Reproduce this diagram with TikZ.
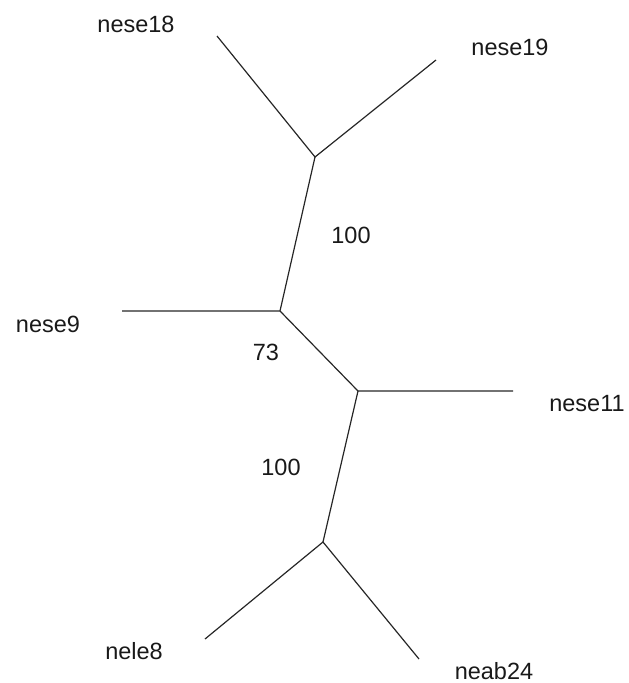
\documentclass[tikz,border=0pt]{standalone}
\usepackage{fontspec}
\setmainfont{Liberation Sans}
\begin{document}
\begin{tikzpicture}[x=1pt,y=-1pt,
  branch/.style={line width=1.2pt,color=black!85},
  taxon/.style={font=\fontsize{23.5}{26}\selectfont,inner sep=0pt,text=black!90},
  support/.style={font=\fontsize{23.5}{26}\selectfont,inner sep=0pt,text=black!90}]
\useasboundingbox (0,0) rectangle (629,683);
% internal nodes
\coordinate (A) at (315,157);
\coordinate (B) at (280,311);
\coordinate (C) at (358,391);
\coordinate (D) at (323,542);
% leaf ends
\coordinate (l18) at (217,36);
\coordinate (l19) at (436,60);
\coordinate (l9) at (122,311);
\coordinate (l11) at (513,391);
\coordinate (l8) at (205,639);
\coordinate (l24) at (419,659);
% branches
\draw[branch] (l18) -- (A) -- (l19);
\draw[branch] (A) -- (B) -- (l9);
\draw[branch] (B) -- (C) -- (l11);
\draw[branch] (C) -- (D);
\draw[branch] (l8) -- (D) -- (l24);
% taxon labels
\node[taxon] (t18) at (136,24) {nese18};
\node[taxon] (t19) at (510,47) {nese19};
\node[taxon] (t9) at (48,324) {nese9};
\node[taxon] (t11) at (587,404) {nese11};
\node[taxon] (t8) at (134,651) {nele8};
\node[taxon] (t24) at (494,671) {neab24};
% bootstrap values
\node[support] (s1) at (351,235) {100};
\node[support] (s2) at (266,352) {73};
\node[support] (s3) at (281,467) {100};
\end{tikzpicture}
\end{document}
